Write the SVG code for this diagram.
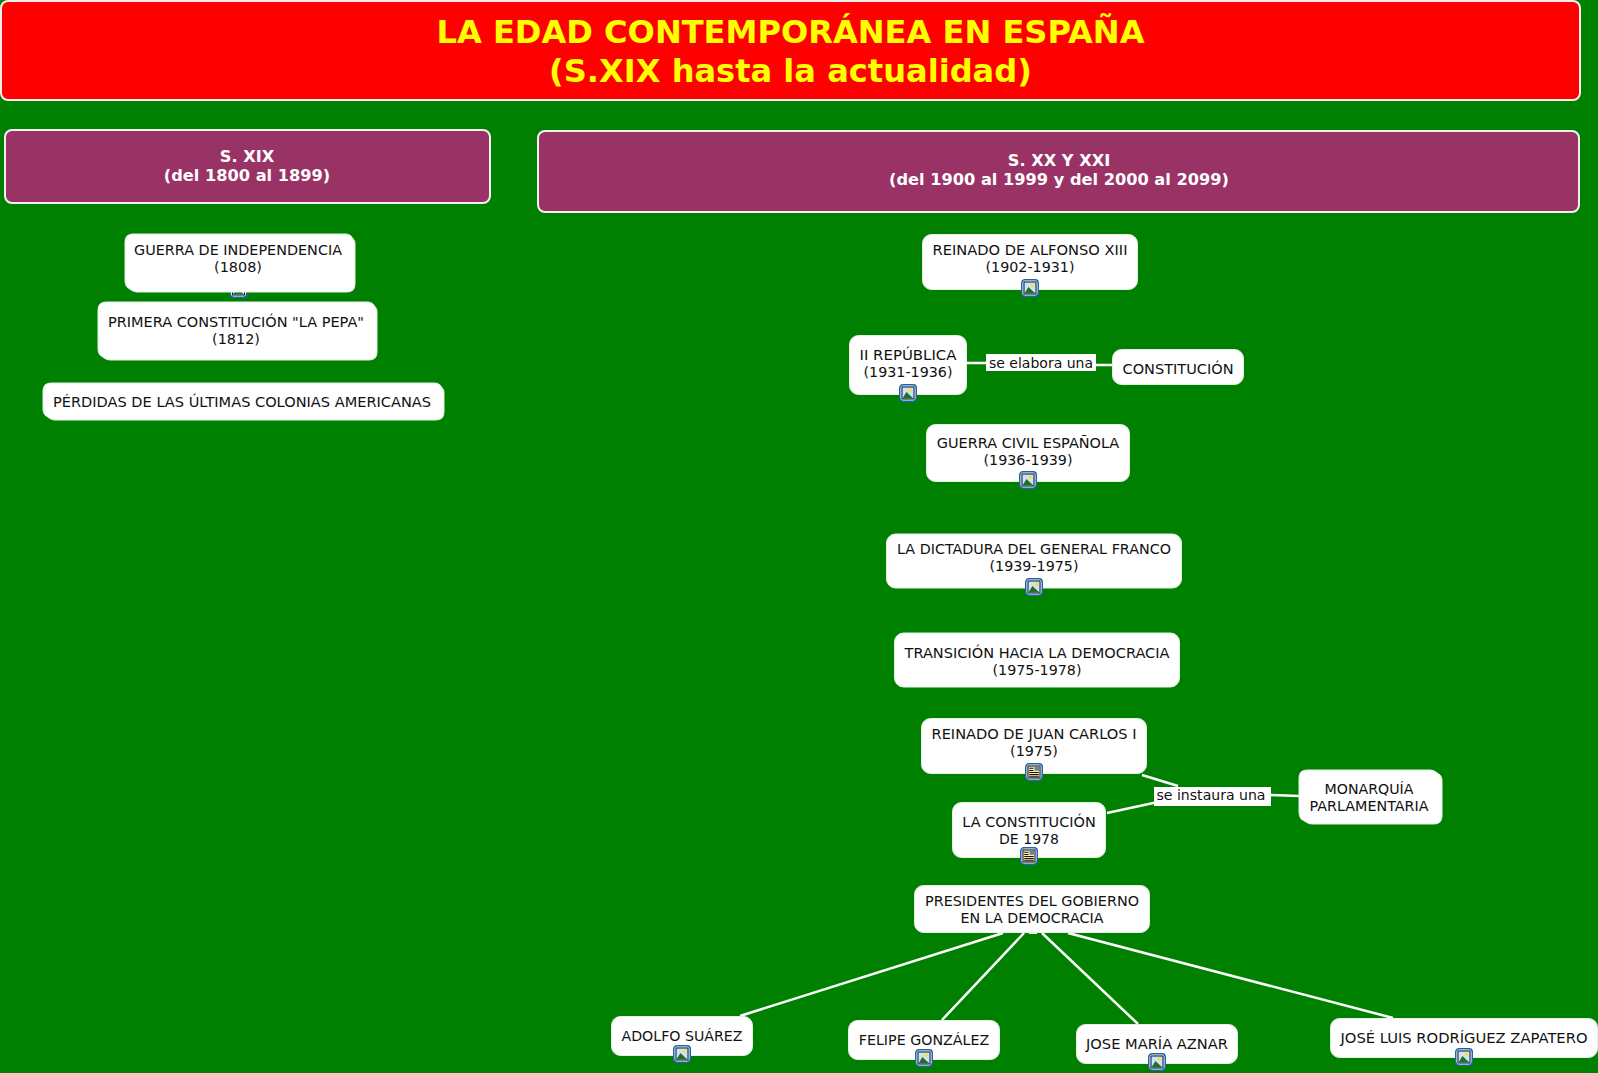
<svg xmlns="http://www.w3.org/2000/svg" width="1598" height="1073" viewBox="0 0 1598 1073">
<style>
text{font-family:"DejaVu Sans",Verdana,sans-serif;text-anchor:middle}
.n{fill:#fff;stroke:#e4f2e4;stroke-width:1}
.t{font-size:14.4px;fill:#111}
.h{fill:#993366;stroke:#f0f0f0;stroke-width:2}
.ht{font-size:16.2px;font-weight:bold;fill:#fff}
.tt{font-size:32.1px;font-weight:bold;fill:#ffff00}
.c{stroke:#fff;stroke-width:2.5;fill:none}
.l{fill:#fff}
</style>
<defs>
<symbol id="img" viewBox="0 0 17 17" overflow="visible">
<rect x="0.7" y="0.7" width="15.6" height="15.600" rx="3" fill="#fff" stroke="#1e62b0" stroke-width="1.4"/>
<rect x="2.800" y="2.800" width="11.400" height="11.400" fill="#cfe2f3" stroke="#0a1a30" stroke-width="1"/>
<circle cx="10.800" cy="5.800" r="1.700" fill="#f4e04d"/>
<path d="M3.300 13.700L7 7.500l3 2.800 3.700 3.400z" fill="#1f6e2a"/>
</symbol>
<symbol id="doc" viewBox="0 0 17 17" overflow="visible">
<rect x="0.7" y="0.7" width="15.600" height="15.600" rx="3" fill="#fff" stroke="#1e62b0" stroke-width="1.400"/>
<rect x="2.800" y="2.800" width="11.400" height="11.400" fill="#fbeeb0" stroke="#111" stroke-width="1"/>
<rect x="9" y="3.300" width="4.700" height="4" fill="#6d7f99"/>
<path d="M4 5h4M4 7h4M4 9h9M4 11h9M4 13h9" stroke="#111" stroke-width="1"/>
</symbol>
</defs>
<rect width="1598" height="1073" fill="#008000"/>
<g id="connectors">
<path class="c" d="M967 363H986M1096 365H1112.500"/>
<path class="c" d="M1142 775L1178 786M1107 813L1158 802M1271 795L1300 796"/>
<path class="c" d="M1003 933L740 1016M1024 933L942 1020M1042 933L1138 1024M1068 933L1393 1018"/>
<rect x="1029" y="930" width="8" height="4" fill="#fff"/>
</g>
<g id="title"><rect class="n" x="1" y="1" width="1579" height="99" rx="7" style="fill:#f00;stroke:#f0f0f0;stroke-width:2"/>
<text class="tt" x="790.500" y="43">LA EDAD CONTEMPORÁNEA EN ESPAÑA</text><text class="tt" x="790.500" y="82">(S.XIX hasta la actualidad)</text></g>
<g id="h19"><rect class="h" x="5" y="130" width="485" height="73" rx="7"/>
<text class="ht" x="247" y="162">S. XIX</text><text class="ht" x="247" y="181">(del 1800 al 1899)</text></g>
<g id="h20"><rect class="h" x="538" y="131" width="1041" height="81" rx="7"/>
<text class="ht" x="1059" y="166">S. XX Y XXI</text><text class="ht" x="1059" y="185">(del 1900 al 1999 y del 2000 al 2099)</text></g>
<g id="guerra-independencia"><use href="#img" x="229.500" y="280" width="18" height="18"/>
<path class="n" d="M133 234H346Q349 234 351 236L354 240Q355 241 355 244V284Q355 292 347 292H137Q134 292 131 290L127 287Q125 285 125 281V242Q125 234 133 234Z"/>
<text class="t" x="238" y="255" textLength="208" lengthAdjust="spacingAndGlyphs">GUERRA DE INDEPENDENCIA</text><text class="t" x="238" y="272">(1808)</text></g>
<g id="primera-constitucion"><path class="n" d="M106 302H368Q371 302 373 304L376 308Q377 309 377 312V352Q377 360 369 360H110Q107 360 104 358L100 355Q98 353 98 349V310Q98 302 106 302Z"/>
<text class="t" x="236" y="327" textLength="256" lengthAdjust="spacingAndGlyphs">PRIMERA CONSTITUCIÓN "LA PEPA"</text><text class="t" x="236" y="344">(1812)</text></g>
<g id="perdidas"><path class="n" d="M51 383H435Q438 383 440 385L443 389Q444 390 444 393V412Q444 420 436 420H55Q52 420 49 418L45 415Q43 413 43 409V391Q43 383 51 383Z"/>
<text class="t" x="242" y="407" textLength="378" lengthAdjust="spacingAndGlyphs">PÉRDIDAS DE LAS ÚLTIMAS COLONIAS AMERICANAS</text></g>
<g id="alfonso"><rect class="n" x="922.500" y="234.500" width="215" height="55" rx="9"/>
<text class="t" x="1030" y="255" textLength="195" lengthAdjust="spacingAndGlyphs">REINADO DE ALFONSO XIII</text><text class="t" x="1030" y="272" textLength="89" lengthAdjust="spacingAndGlyphs">(1902-1931)</text><use href="#img" x="1021" y="279" width="18" height="18"/></g>
<g id="republica"><rect class="n" x="849.500" y="335.500" width="117" height="59" rx="9"/>
<text class="t" x="908" y="360" textLength="97" lengthAdjust="spacingAndGlyphs">II REPÚBLICA</text><text class="t" x="908" y="377" textLength="89" lengthAdjust="spacingAndGlyphs">(1931-1936)</text><use href="#img" x="899" y="384" width="18" height="18"/></g>
<rect class="l" x="986" y="354" width="110" height="17"/><text class="t" x="1041" y="368" textLength="104" lengthAdjust="spacingAndGlyphs">se elabora una</text>
<g id="constitucion"><rect class="n" x="1112.500" y="349.500" width="131" height="35" rx="9"/>
<text class="t" x="1178" y="374" textLength="111" lengthAdjust="spacingAndGlyphs">CONSTITUCIÓN</text></g>
<g id="guerra-civil"><rect class="n" x="926.500" y="424.500" width="203" height="57" rx="9"/>
<text class="t" x="1028" y="448" textLength="182.500" lengthAdjust="spacingAndGlyphs">GUERRA CIVIL ESPAÑOLA</text><text class="t" x="1028" y="465" textLength="89" lengthAdjust="spacingAndGlyphs">(1936-1939)</text><use href="#img" x="1019" y="471" width="18" height="18"/></g>
<g id="dictadura"><rect class="n" x="886.500" y="534" width="295" height="54" rx="9"/>
<text class="t" x="1034" y="554" textLength="274" lengthAdjust="spacingAndGlyphs">LA DICTADURA DEL GENERAL FRANCO</text><text class="t" x="1034" y="571" textLength="89" lengthAdjust="spacingAndGlyphs">(1939-1975)</text><use href="#img" x="1025" y="578" width="18" height="18"/></g>
<g id="transicion"><rect class="n" x="894.500" y="633" width="285" height="54" rx="9"/>
<text class="t" x="1037" y="658" textLength="265" lengthAdjust="spacingAndGlyphs">TRANSICIÓN HACIA LA DEMOCRACIA</text><text class="t" x="1037" y="675" textLength="89" lengthAdjust="spacingAndGlyphs">(1975-1978)</text></g>
<g id="juan-carlos"><rect class="n" x="921.500" y="718.500" width="225" height="55" rx="9"/>
<text class="t" x="1034" y="739" textLength="205" lengthAdjust="spacingAndGlyphs">REINADO DE JUAN CARLOS I</text><text class="t" x="1034" y="756">(1975)</text><use href="#doc" x="1025" y="763" width="18" height="18"/></g>
<rect class="l" x="1154" y="787" width="117" height="19"/><text class="t" x="1211" y="800" textLength="109" lengthAdjust="spacingAndGlyphs">se instaura una</text>
<g id="monarquia"><path class="n" d="M1307 770H1430Q1433 770 1436 772L1440 775Q1442 777 1442 780V816Q1442 824 1434 824H1312Q1309 824 1306 822L1301 819Q1299 816 1299 812V778Q1299 770 1307 770Z"/>
<text class="t" x="1369" y="794" textLength="89" lengthAdjust="spacingAndGlyphs">MONARQUÍA</text><text class="t" x="1369" y="811" textLength="119" lengthAdjust="spacingAndGlyphs">PARLAMENTARIA</text></g>
<g id="constitucion-1978"><rect class="n" x="952.500" y="802.500" width="153" height="55" rx="9"/>
<text class="t" x="1029" y="827" textLength="133.500" lengthAdjust="spacingAndGlyphs">LA CONSTITUCIÓN</text><text class="t" x="1029" y="844" textLength="60" lengthAdjust="spacingAndGlyphs">DE 1978</text><use href="#doc" x="1020" y="847" width="18" height="18"/></g>
<g id="presidentes"><rect class="n" x="914.500" y="885.500" width="235" height="47" rx="9"/>
<text class="t" x="1032" y="906" textLength="214" lengthAdjust="spacingAndGlyphs">PRESIDENTES DEL GOBIERNO</text><text class="t" x="1032" y="923" textLength="143" lengthAdjust="spacingAndGlyphs">EN LA DEMOCRACIA</text></g>
<g id="suarez"><rect class="n" x="611.500" y="1016.500" width="141" height="39" rx="9"/>
<text class="t" x="682" y="1041" textLength="121" lengthAdjust="spacingAndGlyphs">ADOLFO SUÁREZ</text><use href="#img" x="673" y="1045" width="18" height="18"/></g>
<g id="gonzalez"><rect class="n" x="848.500" y="1020.500" width="151" height="39" rx="9"/>
<text class="t" x="924" y="1045" textLength="130.500" lengthAdjust="spacingAndGlyphs">FELIPE GONZÁLEZ</text><use href="#img" x="915" y="1049" width="18" height="18"/></g>
<g id="aznar"><rect class="n" x="1076.500" y="1024.500" width="161" height="39" rx="9"/>
<text class="t" x="1157" y="1049" textLength="142" lengthAdjust="spacingAndGlyphs">JOSE MARÍA AZNAR</text><use href="#img" x="1148" y="1053" width="18" height="18"/></g>
<g id="zapatero"><rect class="n" x="1330.500" y="1018.500" width="267" height="39" rx="9"/>
<text class="t" x="1464" y="1043" textLength="247" lengthAdjust="spacingAndGlyphs">JOSÉ LUIS RODRÍGUEZ ZAPATERO</text><use href="#img" x="1455" y="1048" width="18" height="18"/></g>
</svg>
